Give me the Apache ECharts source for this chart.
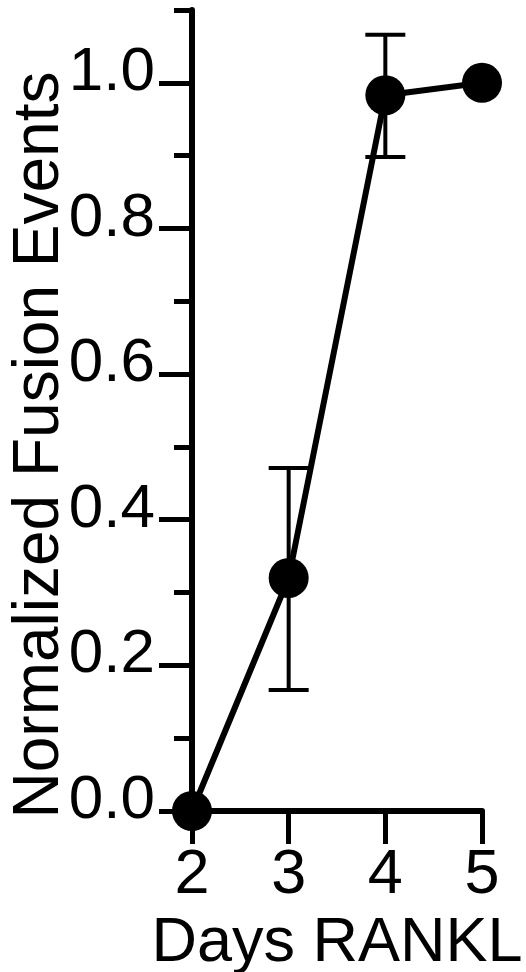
<!DOCTYPE html>
<html>
<head>
<meta charset="utf-8">
<script src="https://cdn.jsdelivr.net/npm/echarts@6/dist/echarts.min.js"></script>
<style>html,body{margin:0;padding:0;background:#fff}#c{width:526px;height:972px}</style>
</head>
<body>
<div id="c"></div>
<script>
var days = [2, 3, 4, 5];
var meanValues = [0.0, 0.32, 0.983, 1.0];
var errLow = [null, 0.166, 0.898, null];
var errHigh = [null, 0.471, 1.066, null];
var majorTicks = [0, 0.2, 0.4, 0.6, 0.8, 1.0];
var minorTicks = [0.1, 0.3, 0.5, 0.7, 0.9, 1.1];
var xTicks = [2, 3, 4, 5];
var yTitle = 'Normalized Fusion Events';
var xTitle = 'Days RANKL';

var FONT = '"Liberation Sans", Arial, sans-serif';
var chart = echarts.init(document.getElementById('c'), null, {renderer: 'canvas'});

var errData = [];
for (var i = 0; i < days.length; i++) {
  if (errLow[i] != null) errData.push([days[i], errLow[i], errHigh[i]]);
}

chart.setOption({
  backgroundColor: '#fff',
  animation: false,
  grid: {left: 192, right: 44, top: 10, bottom: 161, containLabel: false, outerBoundsMode: 'none'},
  xAxis: {
    type: 'value', min: 2, max: 5, interval: 1,
    axisLine: {show: true, lineStyle: {color: '#000', width: 6}},
    axisTick: {show: true, length: 33, lineStyle: {color: '#000', width: 5}, customValues: xTicks},
    axisLabel: {color: '#000', fontSize: 63, fontFamily: FONT, margin: 33, customValues: xTicks},
    splitLine: {show: false},
    name: xTitle, nameLocation: 'middle', nameGap: 77,
    nameTextStyle: {color: '#000', fontSize: 63, fontFamily: FONT}
  },
  yAxis: [{
    type: 'value', min: 0, max: 1.1,
    axisLine: {show: true, onZero: false, lineStyle: {color: '#000', width: 6}},
    axisTick: {show: true, length: 33, lineStyle: {color: '#000', width: 5}, customValues: majorTicks},
    axisLabel: {color: '#000', fontSize: 62, fontFamily: FONT, margin: 37, customValues: majorTicks,
      verticalAlign: 'bottom', lineHeight: 20,
      formatter: function (v) { return v.toFixed(1); }},
    splitLine: {show: false}
  }, {
    type: 'value', min: 0, max: 1.1, position: 'left',
    axisLine: {show: false},
    axisTick: {show: true, length: 18, lineStyle: {color: '#000', width: 5}, customValues: minorTicks},
    axisLabel: {show: false},
    splitLine: {show: false}
  }],
  graphic: [{
    type: 'text',
    x: 40, y: 445, rotation: Math.PI / 2,
    style: {text: yTitle, fill: '#000', font: '64px ' + FONT, textAlign: 'center', textVerticalAlign: 'middle'}
  }],
  series: [{
    type: 'custom',
    data: errData,
    clip: false,
    z: 3,
    renderItem: function (params, api) {
      var x = api.value(0);
      var lo = api.coord([x, api.value(1)]);
      var hi = api.coord([x, api.value(2)]);
      var hw = 20;
      var st = {stroke: '#000', lineWidth: 4};
      return {type: 'group', children: [
        {type: 'line', shape: {x1: lo[0], y1: lo[1], x2: hi[0], y2: hi[1]}, style: st},
        {type: 'line', shape: {x1: lo[0] - hw, y1: lo[1], x2: lo[0] + hw, y2: lo[1]}, style: st},
        {type: 'line', shape: {x1: hi[0] - hw, y1: hi[1], x2: hi[0] + hw, y2: hi[1]}, style: st}
      ]};
    }
  }, {
    type: 'line',
    data: days.map(function (d, i) { return [d, meanValues[i]]; }),
    clip: false,
    z: 4,
    symbol: 'circle', symbolSize: 40,
    lineStyle: {color: '#000', width: 6},
    itemStyle: {color: '#000'}
  }]
});
</script>
</body>
</html>
